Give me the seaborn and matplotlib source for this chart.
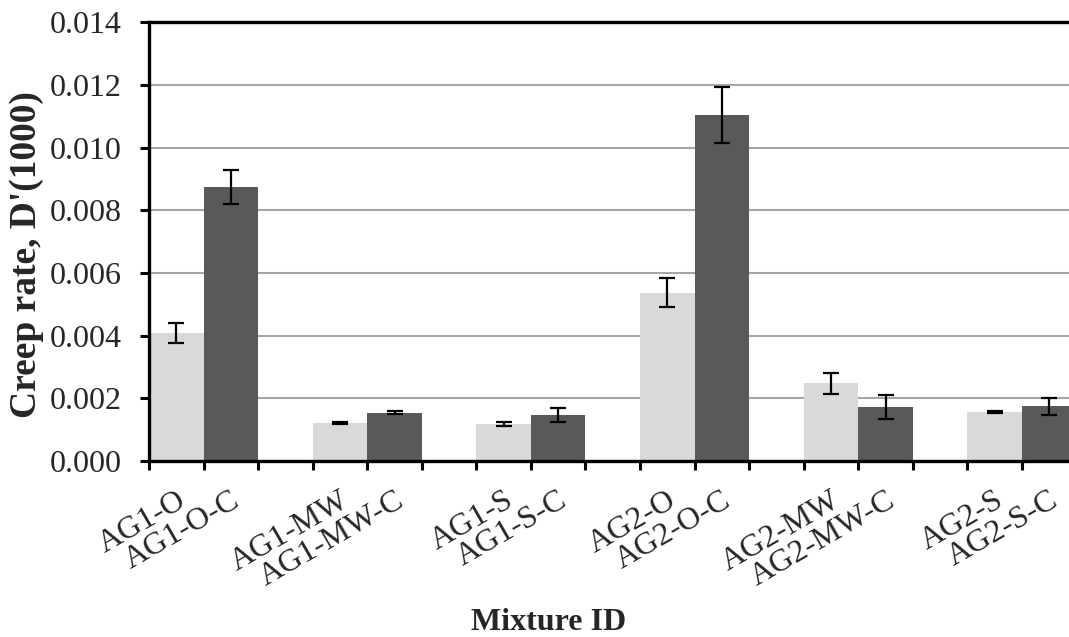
import numpy as np
import pandas as pd
import matplotlib
matplotlib.use("Agg")
import matplotlib.pyplot as plt
import seaborn as sns

# ---- data ----
mixtures = ["AG1-O", "AG1-O-C", "AG1-MW", "AG1-MW-C", "AG1-S", "AG1-S-C",
            "AG2-O", "AG2-O-C", "AG2-MW", "AG2-MW-C", "AG2-S", "AG2-S-C"]
series = ["Uncoated", "Coated", "Uncoated", "Coated", "Uncoated", "Coated",
          "Uncoated", "Coated", "Uncoated", "Coated", "Uncoated", "Coated"]
creep_rate = [0.00408, 0.00874, 0.00122, 0.00154, 0.00119, 0.00148,
              0.00537, 0.01104, 0.00248, 0.00172, 0.00156, 0.00175]
creep_err = [0.00032, 0.00054, 0.00004, 0.00004, 0.00006, 0.00022,
             0.00047, 0.00090, 0.00033, 0.00038, 0.00004, 0.00027]
y_ticks = [0.000, 0.002, 0.004, 0.006, 0.008, 0.010, 0.012, 0.014]

# category slots: two bars per mixture pair followed by an empty slot
order = []
tick_text = []
for i in range(0, len(mixtures), 2):
    order += [mixtures[i], mixtures[i + 1], f"_gap{i}"]
    tick_text += [mixtures[i], mixtures[i + 1], ""]

df = pd.DataFrame({"Mixture": mixtures, "Series": series,
                   "Rate": creep_rate, "Err": creep_err})

sns.set_theme(style="white")
plt.rcParams["font.family"] = ["Liberation Serif", "DejaVu Serif"]

W, H = 1069, 637
fig = plt.figure(figsize=(W / 100, H / 100), dpi=100)
ax = fig.add_axes([149 / W, 1 - 461 / H, 982 / W, (461 - 22.3) / H])

sns.barplot(data=df, x="Mixture", y="Rate", hue="Series", order=order,
            palette={"Uncoated": "#d9d9d9", "Coated": "#595959"},
            dodge=False, width=1.0, errorbar=None, legend=False,
            saturation=1.0, linewidth=0, ax=ax, zorder=2)

xpos = [order.index(m) for m in mixtures]
ax.errorbar(xpos, df["Rate"], yerr=df["Err"], fmt="none", ecolor="black",
            elinewidth=1.6, capsize=5.5, capthick=1.6, zorder=3)

ax.set_xlim(-0.5, len(order) - 0.5)
ax.set_ylim(0, 0.014)
ax.set_yticks(y_ticks)
ax.set_yticklabels([f"{v:.3f}" for v in y_ticks])
ax.yaxis.grid(True, color="#a6a6a6", linewidth=1.5, zorder=0)
ax.set_axisbelow(True)

ax.set_xticks(range(len(order)))
ax.set_xticklabels(tick_text, rotation=30, ha="right", va="top",
                   rotation_mode="anchor")
ax.set_xticks(np.arange(-0.5, len(order), 1.0), minor=True)
ax.tick_params(axis="x", which="major", length=0, pad=18, labelsize=23)
ax.tick_params(axis="x", which="minor", length=6.5, width=2.2,
               direction="out", color="black", bottom=True)
ax.tick_params(axis="y", length=6.5, width=2.2, direction="out",
               color="black", pad=13, labelsize=23, left=True)

for side in ["left", "top", "bottom", "right"]:
    ax.spines[side].set_visible(True)
    ax.spines[side].set_color("black")
    ax.spines[side].set_linewidth(2.4)

ax.set_xlabel("")
ax.set_ylabel("")
fig.text(27 / W, 1 - 255 / H, "Creep rate, D'(1000)", rotation=90,
         ha="center", va="center", fontsize=27, fontweight="bold")
fig.text(549 / W, 1 - 622 / H, "Mixture ID", ha="center", va="center",
         fontsize=23, fontweight="bold")

fig.savefig("out.png", dpi=100)
